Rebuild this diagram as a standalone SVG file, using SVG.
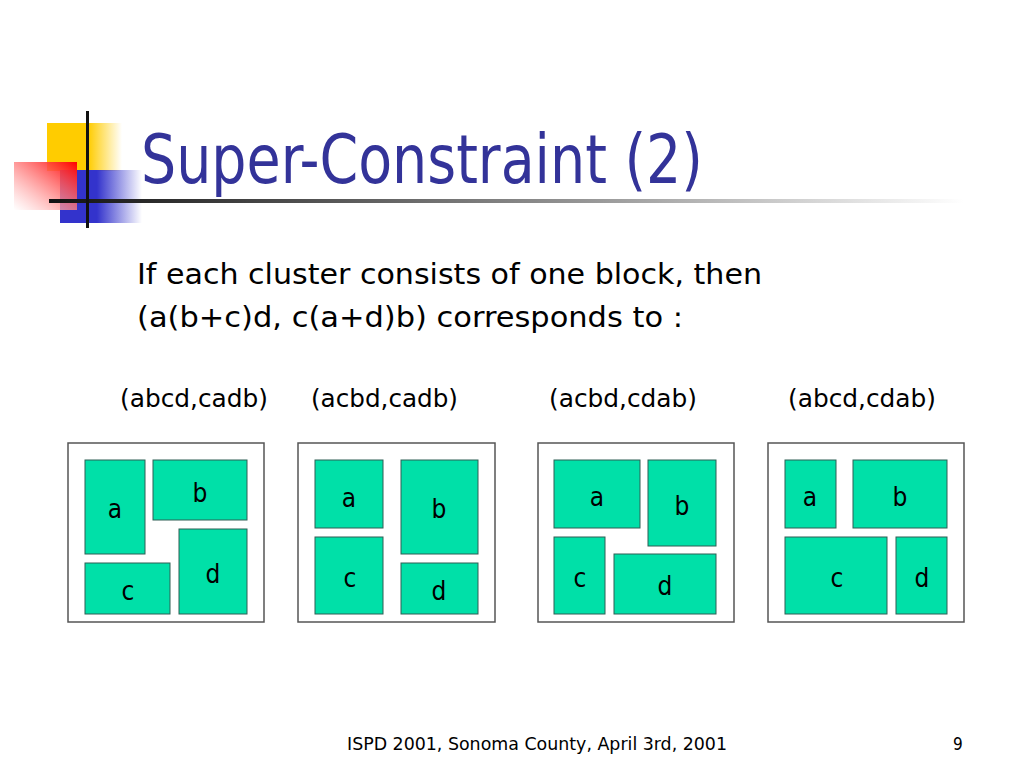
<svg xmlns="http://www.w3.org/2000/svg" width="1024" height="768" viewBox="0 0 1024 768">
<defs>
<linearGradient id="gY" x1="0" y1="0" x2="1" y2="0"><stop offset="0" stop-color="#FFCC00"/><stop offset="0.55" stop-color="#FFCC00"/><stop offset="1" stop-color="#FFCC00" stop-opacity="0"/></linearGradient>
<linearGradient id="gB" x1="0" y1="0" x2="1" y2="0"><stop offset="0" stop-color="#3333CC"/><stop offset="0.45" stop-color="#3333CC"/><stop offset="1" stop-color="#3333CC" stop-opacity="0"/></linearGradient>
<linearGradient id="gR" x1="1" y1="0" x2="0" y2="1"><stop offset="0" stop-color="#FF0000"/><stop offset="1" stop-color="#FFFFFF" stop-opacity="0.6"/></linearGradient>
<linearGradient id="gL" x1="0" y1="0" x2="1" y2="0"><stop offset="0" stop-color="#111111"/><stop offset="0.15" stop-color="#333333"/><stop offset="0.6" stop-color="#999999"/><stop offset="1" stop-color="#FFFFFF"/></linearGradient>
<style>
.title{font-family:"Tahoma","DejaVu Sans Condensed","DejaVu Sans",sans-serif;font-size:68px;fill:#333399}
.body{font-family:"Tahoma","DejaVu Sans Condensed","DejaVu Sans",sans-serif;font-size:28px;fill:#000}
.lab{font-family:"Tahoma","DejaVu Sans Condensed","DejaVu Sans",sans-serif;font-size:25px;fill:#000}
.blk text{font-family:"Tahoma","DejaVu Sans Condensed","DejaVu Sans",sans-serif;font-size:26px;fill:#000;text-anchor:middle}
.foot{font-family:"Tahoma","DejaVu Sans Condensed","DejaVu Sans",sans-serif;font-size:17px;fill:#000}
.frame{fill:#FFFFFF;stroke:#555555;stroke-width:1.5}
.b{fill:#00E0A8;stroke:#2F5F55;stroke-width:1}
</style>
</defs>
<rect width="1024" height="768" fill="#FFFFFF"/>
<g id="logo">
<rect x="47" y="123" width="75" height="48" fill="url(#gY)"/>
<rect x="60" y="170" width="82" height="53" fill="url(#gB)"/>
<rect x="14" y="162" width="63" height="48" fill="url(#gR)"/>
<rect x="49" y="199" width="915" height="4" fill="url(#gL)"/>
<rect x="86" y="111" width="3" height="117" fill="#111111"/>
</g>
<text class="title" x="141" y="183" textLength="562" lengthAdjust="spacingAndGlyphs">Super-Constraint (2)</text>
<text class="body" x="137" y="284" textLength="625" lengthAdjust="spacingAndGlyphs">If each cluster consists of one block, then</text>
<text class="body" x="137" y="327" textLength="546" lengthAdjust="spacingAndGlyphs">(a(b+c)d, c(a+d)b) corresponds to :</text>
<text class="lab" x="120" y="407" textLength="148" lengthAdjust="spacingAndGlyphs">(abcd,cadb)</text>
<text class="lab" x="311" y="407" textLength="147" lengthAdjust="spacingAndGlyphs">(acbd,cadb)</text>
<text class="lab" x="549" y="407" textLength="148" lengthAdjust="spacingAndGlyphs">(acbd,cdab)</text>
<text class="lab" x="788" y="407" textLength="148" lengthAdjust="spacingAndGlyphs">(abcd,cdab)</text>
<g id="fp1" class="blk">
<rect class="frame" x="68" y="443" width="196" height="179"/>
<rect class="b" x="85" y="460" width="60" height="94"/><text x="115" y="518">a</text>
<rect class="b" x="153" y="460" width="94" height="60"/><text x="200" y="502">b</text>
<rect class="b" x="85" y="563" width="85" height="51"/><text x="128" y="600">c</text>
<rect class="b" x="179" y="529" width="68" height="85"/><text x="213" y="583">d</text>
</g>
<g id="fp2" class="blk">
<rect class="frame" x="298" y="443" width="197" height="179"/>
<rect class="b" x="315" y="460" width="68" height="68"/><text x="349" y="507">a</text>
<rect class="b" x="401" y="460" width="77" height="94"/><text x="439" y="518">b</text>
<rect class="b" x="315" y="537" width="68" height="77"/><text x="350" y="587">c</text>
<rect class="b" x="401" y="563" width="77" height="51"/><text x="439" y="600">d</text>
</g>
<g id="fp3" class="blk">
<rect class="frame" x="538" y="443" width="196" height="179"/>
<rect class="b" x="554" y="460" width="86" height="68"/><text x="597" y="506">a</text>
<rect class="b" x="648" y="460" width="68" height="86"/><text x="682" y="515">b</text>
<rect class="b" x="554" y="537" width="51" height="77"/><text x="580" y="587">c</text>
<rect class="b" x="614" y="554" width="102" height="60"/><text x="665" y="595">d</text>
</g>
<g id="fp4" class="blk">
<rect class="frame" x="768" y="443" width="196" height="179"/>
<rect class="b" x="785" y="460" width="51" height="68"/><text x="810" y="506">a</text>
<rect class="b" x="853" y="460" width="94" height="68"/><text x="900" y="506">b</text>
<rect class="b" x="785" y="537" width="102" height="77"/><text x="837" y="587">c</text>
<rect class="b" x="896" y="537" width="51" height="77"/><text x="922" y="587">d</text>
</g>
<g id="connectors"/>
<text class="foot" x="347" y="750" textLength="380" lengthAdjust="spacingAndGlyphs">ISPD 2001, Sonoma County, April 3rd, 2001</text>
<text class="foot" x="953" y="750">9</text>
</svg>
